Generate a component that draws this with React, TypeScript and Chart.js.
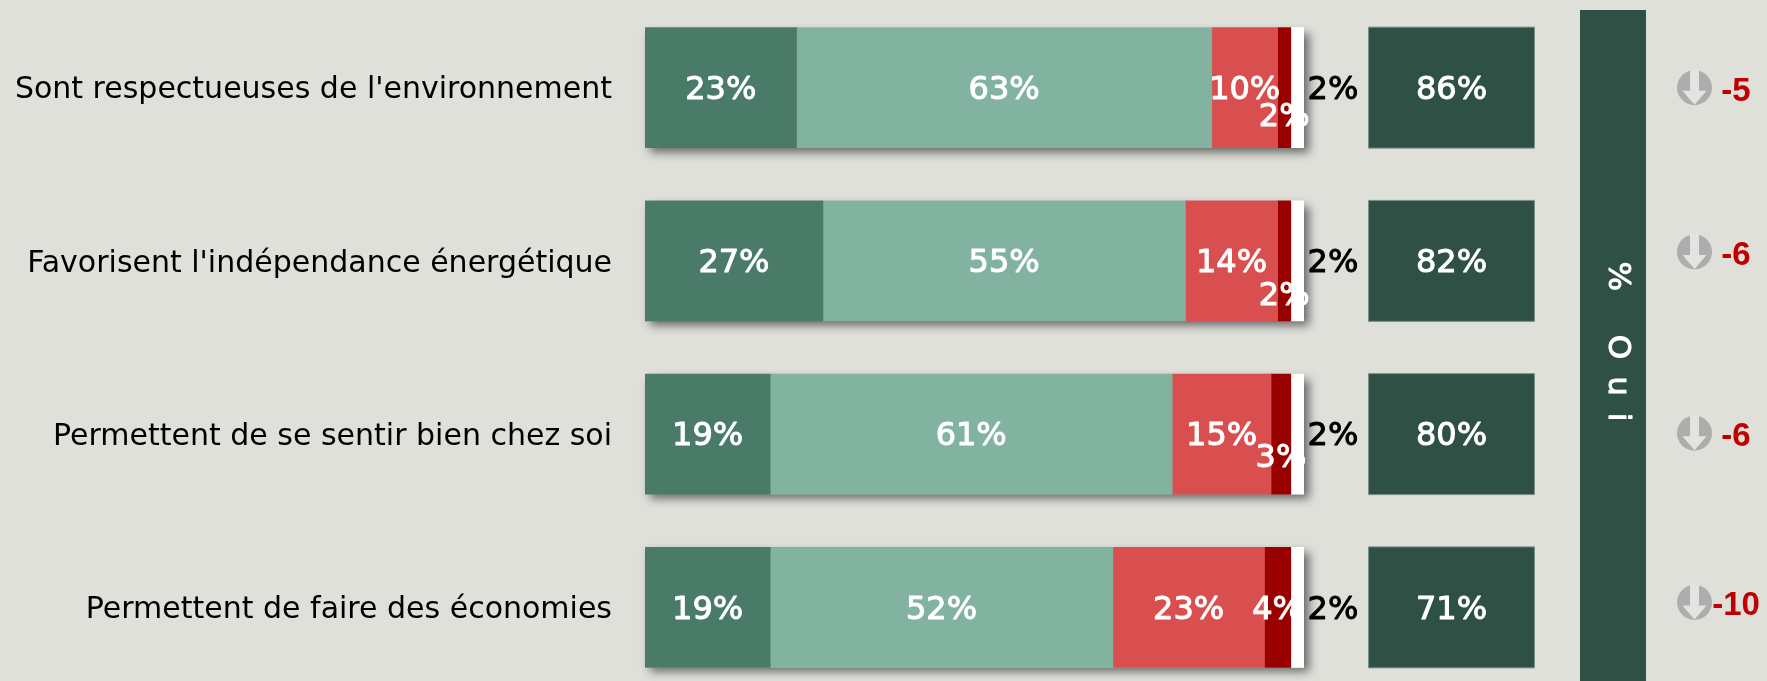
import React, { useEffect, useRef } from "react";
import { Chart, registerables } from "chart.js";

Chart.register(...registerables);

const categories = [
  "Sont respectueuses de l'environnement",
  "Favorisent l'indépendance énergétique",
  "Permettent de se sentir bien chez soi",
  "Permettent de faire des économies",
];
const tresBien = [23, 27, 19, 19];
const plutotBien = [63, 55, 61, 52];
const plutotMal = [10, 14, 15, 23];
const tresMal = [2, 2, 3, 4];
const nsp = [2, 2, 2, 2];
const totalOui = [86, 82, 80, 71];
const evolution = [-5, -6, -6, -10];
const panelLabel = "% Oui";
const seriesNames = ["Tout à fait", "Plutôt", "Plutôt pas", "Pas du tout", "NSP"];

const BG = "#DFE0DA";
const DARK = "#2F5045";
const VALUE_FONT = "32px 'DejaVu Sans'";
const narrowLabelDrop = [27, 33, 22, 0];
const evolutionShift = [0, -9, -1, -5];

function heavyText(ctx: any, txt: string, x: number, y: number, color: string) {
  ctx.fillStyle = color;
  ctx.strokeStyle = color;
  ctx.lineWidth = 1;
  ctx.lineJoin = "round";
  ctx.strokeText(txt, x, y);
  ctx.fillText(txt, x, y);
}

const annotations = {
  id: "annotations",
  beforeDatasetsDraw(chart: any) {
    const { ctx } = chart;
    const first = chart.getDatasetMeta(0).data;
    const last = chart.getDatasetMeta(4).data;
    ctx.save();
    ctx.shadowColor = "rgba(40,40,40,0.65)";
    ctx.shadowBlur = 9;
    ctx.shadowOffsetX = 5;
    ctx.shadowOffsetY = 5;
    ctx.fillStyle = "#fff";
    first.forEach((b: any, i: number) => {
      const e = last[i];
      ctx.fillRect(b.base, b.y - b.height / 2, e.x - b.base, b.height);
    });
    ctx.restore();
  },
  afterDatasetsDraw(chart: any) {
    const { ctx, scales } = chart;
    const y = scales.y;
    ctx.save();
    ctx.textAlign = "center";
    ctx.textBaseline = "middle";
    ctx.font = VALUE_FONT;

    chart.data.datasets.forEach((ds: any, d: number) => {
      const meta = chart.getDatasetMeta(d);
      meta.data.forEach((el: any, i: number) => {
        const txt = `${ds.data[i]}%`;
        const cx = (el.base + el.x) / 2;
        let ty = el.y + 3;
        if (d === 3) ty += narrowLabelDrop[i];
        if (d === 4) {
          heavyText(ctx, txt, el.x + 29, ty, "#000");
        } else {
          heavyText(ctx, txt, cx, ty, "#fff");
        }
      });
    });

    // total boxes
    totalOui.forEach((v, i) => {
      const yc = y.getPixelForValue(i);
      ctx.fillStyle = DARK;
      ctx.strokeStyle = "#7d918a";
      ctx.lineWidth = 1;
      ctx.fillRect(1368.5, yc - 60.5, 166, 121);
      ctx.strokeRect(1368.5, yc - 60.5, 166, 121);
      heavyText(ctx, `${v}%`, 1451.5, yc + 3, "#fff");
    });

    // "Oui" panel
    ctx.fillStyle = DARK;
    ctx.fillRect(1580, 10, 66, 680);
    ctx.save();
    ctx.translate(1617, 350);
    ctx.rotate(Math.PI / 2);
    ctx.font = "31px 'DejaVu Sans'";
    (ctx as any).letterSpacing = "17px";
    heavyText(ctx, panelLabel, 0, 0, "#fff");
    ctx.restore();

    // evolution arrows + values
    evolution.forEach((v, i) => {
      const yc = y.getPixelForValue(i) + evolutionShift[i];
      const ax = 1694.5;
      const ay = yc;
      ctx.fillStyle = "#ADADAD";
      ctx.beginPath();
      ctx.ellipse(ax, ay, 17.5, 17.5, 0, 0, Math.PI * 2);
      ctx.fill();
      ctx.fillStyle = "#E3E4DF";
      ctx.beginPath();
      ctx.moveTo(ax - 4.5, ay - 18);
      ctx.lineTo(ax + 4.5, ay - 18);
      ctx.lineTo(ax + 4.5, ay + 3);
      ctx.lineTo(ax + 12, ay + 3);
      ctx.lineTo(ax, ay + 17);
      ctx.lineTo(ax - 12, ay + 3);
      ctx.lineTo(ax - 4.5, ay + 3);
      ctx.closePath();
      ctx.fill();
      ctx.fillStyle = "#C00000";
      ctx.font = "bold 33px 'Liberation Sans'";
      ctx.fillText(`${v}`, 1736, yc + 4);
      ctx.font = VALUE_FONT;
    });
    ctx.restore();
  },
};

export default function App() {
  const ref = useRef<HTMLCanvasElement>(null);
  useEffect(() => {
    const mk = (label: string, data: number[], backgroundColor: string) => ({
      label,
      data,
      backgroundColor,
      barThickness: 120,
      borderWidth: 0,
    });
    const chart = new Chart(ref.current!, {
      type: "bar",
      data: {
        labels: categories,
        datasets: [
          mk(seriesNames[0], tresBien, "#4A7A68"),
          mk(seriesNames[1], plutotBien, "#82B3A0"),
          mk(seriesNames[2], plutotMal, "#D94F50"),
          mk(seriesNames[3], tresMal, "#990000"),
          mk(seriesNames[4], nsp, "#FFFFFF"),
        ],
      },
      options: {
        indexAxis: "y",
        responsive: false,
        animation: false,
        layout: { autoPadding: false, padding: { top: 1, bottom: 6, right: 463, left: 0 } },
        plugins: { legend: { display: false }, tooltip: { enabled: false } },
        scales: {
          x: { stacked: true, display: false, min: 0, max: 100 },
          y: {
            stacked: true,
            afterFit: (s: any) => {
              s.width = 645;
              s.paddingTop = 0;
              s.paddingBottom = 0;
              s._margins = { left: 0, right: 0, top: 0, bottom: 0 };
              if (!s.__shifted) {
                s.__shifted = true;
                const orig = s._computeLabelItems.bind(s);
                s._computeLabelItems = (area: any) => {
                  const items = orig(area);
                  items.forEach((it: any) => {
                    it.options.translation = [it.options.translation[0], it.options.translation[1] + 3];
                  });
                  return items;
                };
              }
            },
            grid: { display: false, tickLength: 33 },
            border: { display: false },
            ticks: {
              color: "#000",
              padding: 0,
              font: { family: "'DejaVu Sans'", size: 30 },
            },
          },
        },
      },
      plugins: [annotations],
    } as any);
    return () => chart.destroy();
  }, []);
  return (
    <div style={{ position: "fixed", left: 0, top: 0, width: 1767, height: 681, overflow: "hidden", background: BG }}>
      <canvas ref={ref} width={1767} height={700} style={{ display: "block" }} />
    </div>
  );
}
